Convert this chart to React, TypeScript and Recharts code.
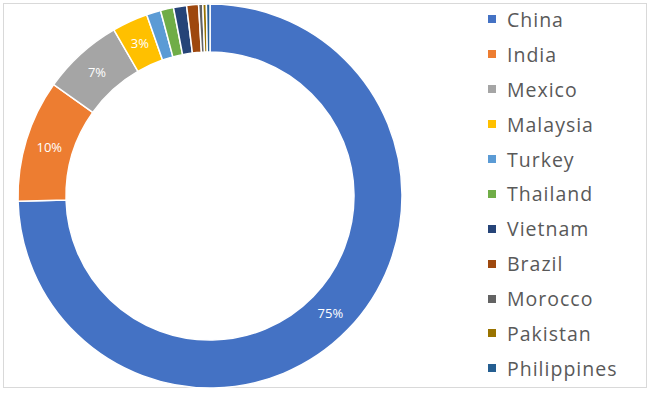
import React from "react";
import { PieChart, Pie, Cell } from "recharts";

const countries = ["China", "India", "Mexico", "Malaysia", "Turkey", "Thailand", "Vietnam", "Brazil", "Morocco", "Pakistan", "Philippines"];
const shares = [74.6, 10.3, 6.8, 3.0, 1.2, 1.1, 1.1, 1.0, 0.35, 0.3, 0.3];
const colors = ["#4472C4", "#ED7D31", "#A5A5A5", "#FFC000", "#5B9BD5", "#70AD47", "#264478", "#9E480E", "#636363", "#997300", "#255E91"];

const data = countries.map((name, i) => ({ name, value: shares[i] }));

const RAD = Math.PI / 180;

const renderLabel = (props: any) => {
  const { cx, cy, midAngle, innerRadius, outerRadius, percent } = props;
  if (percent < 0.02) return null;
  const r = (innerRadius + outerRadius) / 2;
  const x = cx + r * Math.cos(-midAngle * RAD);
  const y = cy + r * Math.sin(-midAngle * RAD);
  return (
    <text x={x} y={y} fill="#ffffff" textAnchor="middle" dominantBaseline="central" fontSize={13} fontFamily="'Open Sans', sans-serif">
      {Math.round(percent * 100) + "%"}
    </text>
  );
};

export default function App() {
  return (
    <div style={{ position: "absolute", left: 0, top: 0, width: 659, height: 393, background: "#ffffff" }}>
      <div style={{ position: "absolute", left: 3, top: 3, width: 642, height: 383, border: "1px solid #d9d9d9" }} />
      <div style={{ position: "absolute", left: 0, top: 0 }}>
        <PieChart width={659} height={393} margin={{ top: 0, right: 0, bottom: 0, left: 0 }}>
          <Pie
            data={data}
            dataKey="value"
            nameKey="name"
            cx={210}
            cy={196}
            innerRadius={144}
            outerRadius={192}
            startAngle={90}
            endAngle={-270}
            stroke="#ffffff"
            strokeWidth={1.5}
            label={renderLabel}
            labelLine={false}
            isAnimationActive={false}
          >
            {data.map((d, i) => (
              <Cell key={d.name} fill={colors[i]} />
            ))}
          </Pie>
        </PieChart>
      </div>
      <div style={{ position: "absolute", left: 488, top: 2, width: 160, fontFamily: "'Open Sans', sans-serif" }}>
        {countries.map((name, i) => (
          <div key={name} style={{ height: 34.9, display: "flex", alignItems: "center", whiteSpace: "nowrap" }}>
            <span style={{ display: "inline-block", width: 8, height: 8, background: colors[i], marginRight: 11 }} />
            <span style={{ fontSize: 19.5, color: "#595959", letterSpacing: 1 }}>{name}</span>
          </div>
        ))}
      </div>
    </div>
  );
}
